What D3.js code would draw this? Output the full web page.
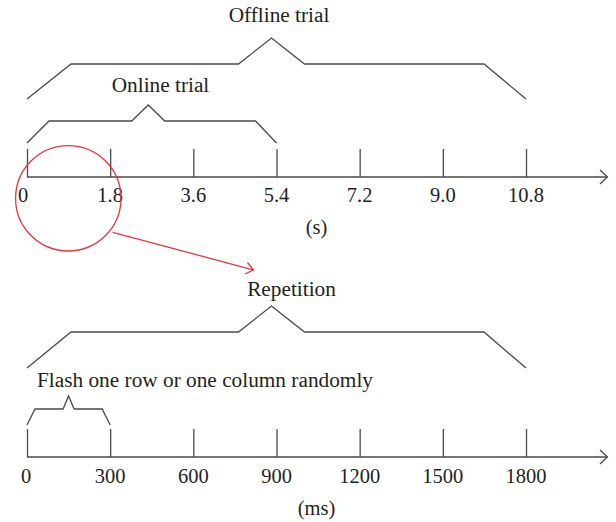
<!DOCTYPE html>
<html><head><meta charset="utf-8">
<script src="https://cdn.jsdelivr.net/npm/d3@7/dist/d3.min.js"></script>
<style>
html,body{margin:0;padding:0;background:#fff;}
svg text{font-family:"Liberation Serif","DejaVu Serif",serif;fill:#231f20;}
</style></head>
<body><svg id="c" width="616" height="522"></svg>
<script>
// Data
const secTicks = [0, 1.8, 3.6, 5.4, 7.2, 9.0, 10.8];
const secLabels = ["0", "1.8", "3.6", "5.4", "7.2", "9.0", "10.8"];
const msTicks = [0, 300, 600, 900, 1200, 1500, 1800];
const msLabels = ["0", "300", "600", "900", "1200", "1500", "1800"];
const secBraces = [
  {label: "Offline trial", start: 0, end: 10.8},
  {label: "Online trial", start: 0, end: 5.4}
];
const msBraces = [
  {label: "Repetition", start: 0, end: 1800},
  {label: "Flash one row or one column randomly", start: 0, end: 300}
];
const units = ["(s)", "(ms)"];

const svg = d3.select("#c");
const lineCol = "#4a4a4a", red = "#e8353b";
const fsNum = 20.5, fsWord = 21.3;

const xs = d3.scaleLinear().domain([0, 10.8]).range([27, 526]);
const xm = d3.scaleLinear().domain([0, 1800]).range([27, 526]);

function drawAxis(x, ticks, labels, axisY, labelY, unit, unitY, zeroShift) {
  const g = svg.append("g");
  const ax = d3.axisTop(x).tickValues(ticks).tickSize(28).tickFormat("");
  const ga = g.append("g").attr("transform", `translate(0,${axisY})`).call(ax);
  ga.select(".domain").remove();
  ga.selectAll("line").attr("stroke", lineCol).attr("stroke-width", 1.3);
  g.append("line").attr("x1", x.range()[0]).attr("x2", 607).attr("y1", axisY).attr("y2", axisY)
    .attr("stroke", lineCol).attr("stroke-width", 1.3);
  g.append("path").attr("d", `M600,${axisY-7}L607.5,${axisY}L600,${axisY+7}`)
    .attr("fill", "none").attr("stroke", lineCol).attr("stroke-width", 1.3);
  g.selectAll("text.tl").data(ticks).join("text").attr("class", "tl")
    .attr("x", (d, i) => x(d) + (i === 0 ? zeroShift : 0)).attr("y", labelY)
    .attr("text-anchor", "middle").attr("font-size", fsNum).text((d, i) => labels[i]);
  g.append("text").attr("x", 316.5).attr("y", unitY).attr("text-anchor", "middle")
    .attr("font-size", fsNum).text(unit);
}

function brace(x, b, yEnd, yShoulder, yPeak, slantL, slantR, peakHalf, peakOff) {
  const x0 = x(b.start), x1 = x(b.end);
  const pk = (x0 + x1) / 2 + peakOff;
  const pts = [[x0, yEnd], [x0 + slantL, yShoulder], [pk - peakHalf, yShoulder], [pk, yPeak],
    [pk + peakHalf, yShoulder], [x1 - slantR, yShoulder], [x1, yEnd]];
  svg.append("path").attr("d", d3.line()(pts)).attr("fill", "none")
    .attr("stroke", lineCol).attr("stroke-width", 1.3).attr("stroke-linejoin", "miter");
}

drawAxis(xs, secTicks, secLabels, 177, 201.5, units[0], 234, -4);
drawAxis(xm, msTicks, msLabels, 457, 483, units[1], 515, -1);

brace(xs, secBraces[0], 99, 64, 38, 44, 42, 33, -5);
brace(xs, secBraces[1], 143, 121, 105, 22, 21, 16.5, -3.5);
brace(xm, msBraces[0], 368, 332, 306, 44, 42, 33, -5);
brace(xm, msBraces[1], 425, 409, 396, 8, 8, 5.5, 0);

svg.append("text").attr("x", 279).attr("y", 22).attr("text-anchor", "middle").attr("font-size", fsWord).text(secBraces[0].label);
svg.append("text").attr("x", 160.5).attr("y", 92).attr("text-anchor", "middle").attr("font-size", fsWord).text(secBraces[1].label);
svg.append("text").attr("x", 291.5).attr("y", 296).attr("text-anchor", "middle").attr("font-size", fsWord).text(msBraces[0].label);
svg.append("text").attr("x", 37).attr("y", 387).attr("text-anchor", "start").attr("font-size", fsWord).text(msBraces[1].label);

// zoom callout
svg.append("circle").attr("cx", 68.3).attr("cy", 198.3).attr("r", 52.7)
  .attr("fill", "none").attr("stroke", red).attr("stroke-width", 1.3);
svg.append("line").attr("x1", 112.7).attr("y1", 232.3).attr("x2", 253).attr("y2", 269.8)
  .attr("stroke", red).attr("stroke-width", 1.3);
svg.append("path").attr("d", "M247.5,262.5L253.5,270L245,274")
  .attr("fill", "none").attr("stroke", red).attr("stroke-width", 1.3);
</script></body></html>
